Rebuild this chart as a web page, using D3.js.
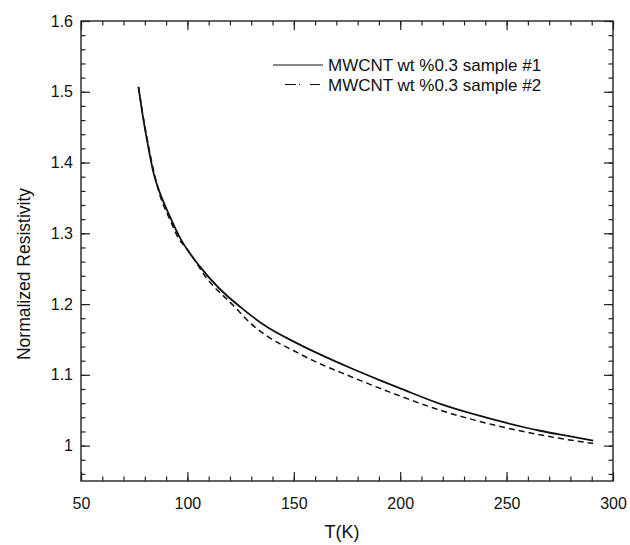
<!DOCTYPE html>
<html>
<head>
<meta charset="utf-8">
<script src="https://cdn.jsdelivr.net/npm/d3@7"></script>
<style>
  body { margin: 0; background: #fff; }
  text { font-family: "Liberation Sans", Arial, sans-serif; fill: #111; }
</style>
</head>
<body>
<svg width="630" height="545"></svg>
<script>
// sample #1 (solid)
const tempS1 = [77, 78.6, 81.3, 84.1, 87.2, 91.9, 96.3, 106, 115, 124.8, 137.3, 150, 160.8, 176.4, 190, 200, 218.8, 235, 250, 265.8, 280, 290.7];
const resS1  = [1.507, 1.474, 1.427, 1.385, 1.356, 1.323, 1.295, 1.2525, 1.222, 1.196, 1.168, 1.147, 1.131, 1.110, 1.093, 1.081, 1.059, 1.044, 1.032, 1.021, 1.013, 1.007];

// sample #2 (dashed)
const tempS2 = [77, 78.6, 81.3, 84, 87, 92, 96, 99.8, 109.2, 121.6, 130, 137.3, 150, 159.2, 176.4, 200, 218.8, 235, 250, 273.5, 290.7];
const resS2  = [1.507, 1.476, 1.43, 1.39, 1.355, 1.318, 1.292, 1.278, 1.236, 1.198, 1.172, 1.155, 1.134, 1.120, 1.098, 1.070, 1.050, 1.036, 1.025, 1.011, 1.003];

const xTicks = [50, 100, 150, 200, 250, 300];
const yTicks = [1, 1.1, 1.2, 1.3, 1.4, 1.5, 1.6];
const legendLabels = ["MWCNT wt %0.3 sample #1", "MWCNT wt %0.3 sample #2"];

const margin = { top: 21, right: 17, bottom: 64, left: 81 };
const width = 630, height = 545;

const svg = d3.select("svg");

const x = d3.scaleLinear().domain([50, 300]).range([margin.left, width - margin.right]);
const y = d3.scaleLinear().domain([0.95, 1.6]).range([height - margin.bottom, margin.top]);

// minor ticks
const xMinor = d3.range(50, 301, 10);
const yMinor = d3.range(0.96, 1.6001, 0.02).map(v => +v.toFixed(2));

function axisPair(axisFn, scale, translate, ticks, minor, fmt) {
  const gMin = svg.append("g").attr("transform", translate)
    .call(axisFn(scale).tickValues(minor).tickSize(-4.5).tickFormat(""));
  const gMaj = svg.append("g").attr("transform", translate)
    .call(axisFn(scale).tickValues(ticks).tickSize(-9).tickPadding(fmt ? 17 : 0).tickFormat(fmt || ""));
  [gMin, gMaj].forEach(g => {
    g.select(".domain").remove();
    g.selectAll("line").attr("stroke", "#222").attr("stroke-width", 1.2);
  });
  return gMaj;
}

const bottom = axisPair(d3.axisBottom, x, `translate(0,${y(0.95)})`, xTicks, xMinor, d3.format("d"));
bottom.selectAll("text").attr("font-size", 16).attr("dy", "0.71em");
axisPair(d3.axisTop, x, `translate(0,${y(1.6)})`, xTicks, xMinor, null);

const left = axisPair(d3.axisLeft, y, `translate(${x(50)},0)`, yTicks, yMinor, d => d === 1 ? "1" : d3.format(".1f")(d));
left.selectAll("text").attr("font-size", 16).attr("dx", 9);
axisPair(d3.axisRight, y, `translate(${x(300)},0)`, yTicks, yMinor, null);

// frame
svg.append("rect")
  .attr("x", x(50)).attr("y", y(1.6))
  .attr("width", x(300) - x(50)).attr("height", y(0.95) - y(1.6))
  .attr("fill", "none").attr("stroke", "#222").attr("stroke-width", 1.4);

// curves
const line = d3.line().x(d => x(d[0])).y(d => y(d[1])).curve(d3.curveMonotoneX);

svg.append("path")
  .attr("d", line(d3.zip(tempS1, resS1)))
  .attr("fill", "none").attr("stroke", "#111").attr("stroke-width", 1.8);

svg.append("path")
  .attr("d", line(d3.zip(tempS2, resS2)))
  .attr("fill", "none").attr("stroke", "#111").attr("stroke-width", 1.5)
  .attr("stroke-dasharray", "6,4");

// legend
const legend = svg.append("g");
const legRows = [65, 84.5];
legend.append("line").attr("x1", 273).attr("x2", 323).attr("y1", legRows[0]).attr("y2", legRows[0])
  .attr("stroke", "#111").attr("stroke-width", 1);
legend.append("line").attr("x1", 285).attr("x2", 320).attr("y1", legRows[1]).attr("y2", legRows[1])
  .attr("stroke", "#111").attr("stroke-width", 1).attr("stroke-dasharray", "11,3,1,10");
legend.selectAll("text.leg")
  .data(legendLabels)
  .enter()
  .append("text")
  .attr("class", "leg")
  .attr("x", 328)
  .attr("y", (d, i) => legRows[i] + 6)
  .attr("font-size", 17)
  .text(d => d);

// axis titles
svg.append("text")
  .attr("x", x(175) - 5).attr("y", 538)
  .attr("text-anchor", "middle").attr("font-size", 18)
  .text("T(K)");

svg.append("text")
  .attr("transform", `translate(30,${274}) rotate(-90)`)
  .attr("text-anchor", "middle").attr("font-size", 17.5)
  .text("Normalized Resistivity");
</script>
</body>
</html>
